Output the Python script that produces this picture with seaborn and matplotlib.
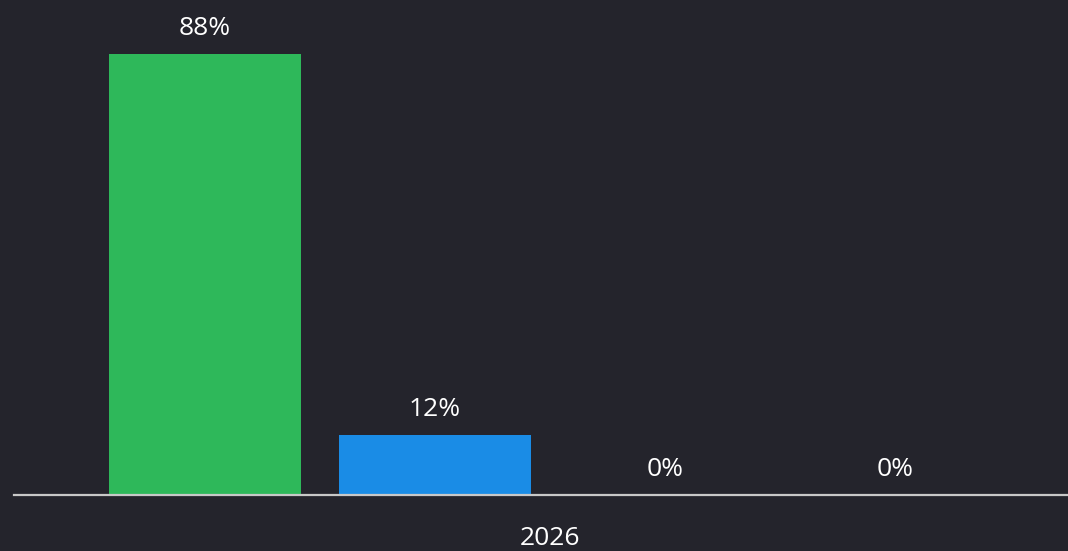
import matplotlib
matplotlib.use("Agg")
import matplotlib.pyplot as plt
import seaborn as sns
import pandas as pd

years = ["2026"]
series = ["Series 1", "Series 2", "Series 3", "Series 4"]
values = [88, 12, 0, 0]
colors = ["#2EB85A", "#1A8CE6", "#F5A623", "#E0444C"]

BG = "#24242C"

df = pd.DataFrame({"year": years * len(series), "series": series, "value": values})

sns.set_theme(style="dark")
plt.rcParams["font.family"] = ["Open Sans", "DejaVu Sans"]

fig = plt.figure(figsize=(10.68, 5.51), dpi=100, facecolor=BG)
ax = fig.add_axes([14 / 1068, 1 - 495 / 551, 1 - 14 / 1068, 495 / 551])
ax.set_facecolor(BG)

sns.barplot(data=df, x="year", y="value", hue="series", palette=colors,
            width=0.8, gap=0.165, legend=False, ax=ax, saturation=1,
            linewidth=0, edgecolor="none")

ax.set_xlim((14 - 550) / 1150, (1068 - 550) / 1150)
ax.set_ylim(0, 495 / 5.011)

for container in ax.containers:
    ax.bar_label(container, labels=[f"{v:.0f}%" for v in container.datavalues],
                 padding=9.5, color="white", fontsize=19)

for s in ["top", "right", "left"]:
    ax.spines[s].set_visible(False)
ax.spines["bottom"].set_color("#C8C8C8")
ax.spines["bottom"].set_linewidth(1.6)
ax.set_yticks([])
ax.set_xlabel("")
ax.set_ylabel("")
ax.tick_params(axis="x", length=0, pad=22, labelsize=19, labelcolor="white")
ax.grid(False)

fig.savefig("out.png", dpi=100, facecolor=BG)
